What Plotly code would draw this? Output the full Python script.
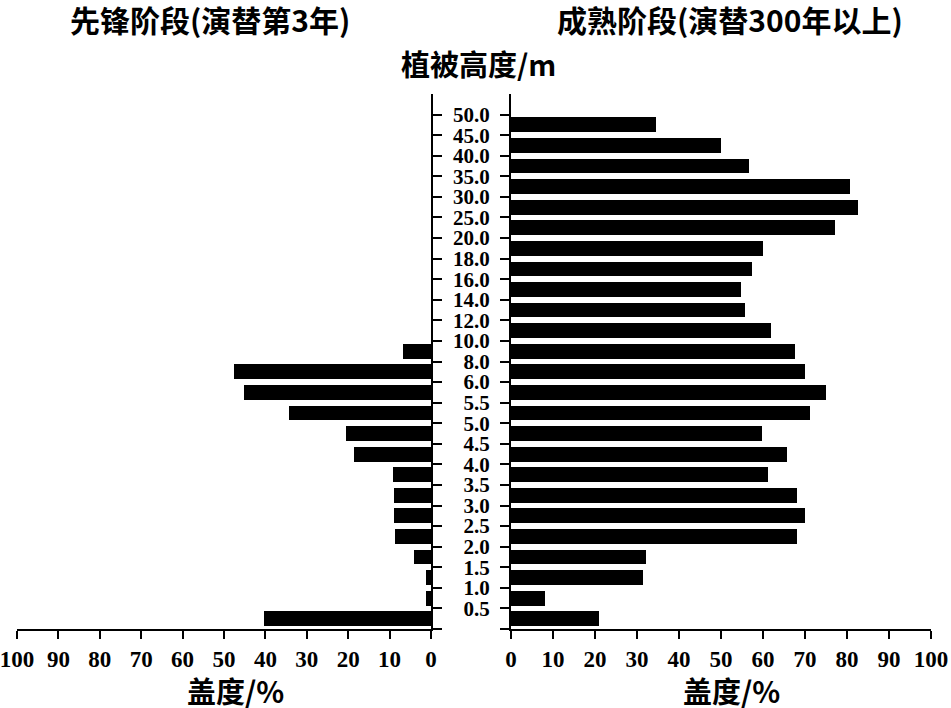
import plotly.graph_objects as go

# vegetation height classes (upper bound of each class, m)
heights = ['0.5', '1.0', '1.5', '2.0', '2.5', '3.0', '3.5', '4.0', '4.5', '5.0',
           '5.5', '6.0', '8.0', '10.0', '12.0', '14.0', '16.0', '18.0', '20.0',
           '25.0', '30.0', '35.0', '40.0', '45.0', '50.0']

# cover (%) per height class
pioneer = [40.3, 1.1, 1.2, 4.0, 8.8, 8.9, 9.0, 9.1, 18.5, 20.5,
           34.4, 45.2, 47.6, 6.7, 0, 0, 0, 0, 0,
           0, 0, 0, 0, 0, 0]
mature = [20.9, 8.1, 31.4, 32.1, 68.1, 70.0, 68.1, 61.2, 65.6, 59.7,
          71.3, 75.1, 70.0, 67.6, 61.9, 55.8, 54.7, 57.4, 59.9,
          77.2, 82.6, 80.8, 56.6, 50.0, 34.6]

cover_ticks = [0, 10, 20, 30, 40, 50, 60, 70, 80, 90, 100]

# bars sit between boundary ticks, labels mark upper bound
ypos = [i + 0.5 for i in range(len(heights))]
yticks = list(range(len(heights) + 1))
ylabels = [''] + heights

W, H = 951, 708
cjk = 'Noto Sans CJK SC'
x_font = dict(family='Liberation Serif', size=23, color='black', weight='bold')
y_font = dict(family='Liberation Serif', size=21, color='black', weight='bold')

fig = go.Figure()
fig.add_trace(go.Bar(x=pioneer, y=ypos, orientation='h', width=0.72,
                     marker=dict(color='black', line=dict(width=0)),
                     xaxis='x', yaxis='y', showlegend=False))
fig.add_trace(go.Bar(x=mature, y=ypos, orientation='h', width=0.72,
                     marker=dict(color='black', line=dict(width=0)),
                     xaxis='x2', yaxis='y2', showlegend=False))

axis_common = dict(showline=True, linecolor='black', linewidth=2,
                   ticks='outside', tickcolor='black', tickwidth=2,
                   showgrid=False, zeroline=False, automargin=False)

top, bottom = 94, H - 629
plot_h = H - top - bottom

fig.update_layout(
    width=W, height=H, autosize=False,
    paper_bgcolor='white', plot_bgcolor='white',
    margin=dict(l=0, r=0, t=top, b=bottom, pad=0),
    bargap=0,
    xaxis=dict(domain=[17 / W, 431 / W], range=[100, 0],
               anchor='y', tickvals=cover_ticks, ticklen=8, tickfont=x_font,
               ticklabeloverflow='allow', **axis_common),
    xaxis2=dict(domain=[511 / W, 931 / W], range=[0, 100],
                anchor='y2', tickvals=cover_ticks, ticklen=8, tickfont=x_font,
                ticklabeloverflow='allow', **axis_common),
    yaxis=dict(range=[0, 26], anchor='x', side='right',
               tickvals=yticks, ticktext=ylabels, showticklabels=False,
               ticklen=9, **axis_common),
    yaxis2=dict(range=[0, 26], anchor='x2', side='left',
                tickvals=yticks, ticktext=ylabels, ticklen=9,
                tickfont=y_font, ticklabelstandoff=6,
                **axis_common),
)

titles = [
    ('<b>先锋阶段(演替第3年)</b>', 210, 19, 30),
    ('<b>成熟阶段(演替300年以上)</b>', 730, 19, 30),
    ('<b>植被高度/m</b>', 478, 63, 29),
    ('<b>盖度/%</b>', 235, 690, 29),
    ('<b>盖度/%</b>', 731, 690, 29),
]
for text, px, py, size in titles:
    fig.add_annotation(text=text, x=px / W, y=(629 - py) / plot_h,
                       xref='paper', yref='paper', showarrow=False,
                       xanchor='center', yanchor='middle',
                       font=dict(family=cjk, size=size, color='black'))

# drop the default page margin so the figure sits at the window corner
fig.write_html('out.html', config={'displayModeBar': False},
               post_script="document.body.style.margin='0';")
